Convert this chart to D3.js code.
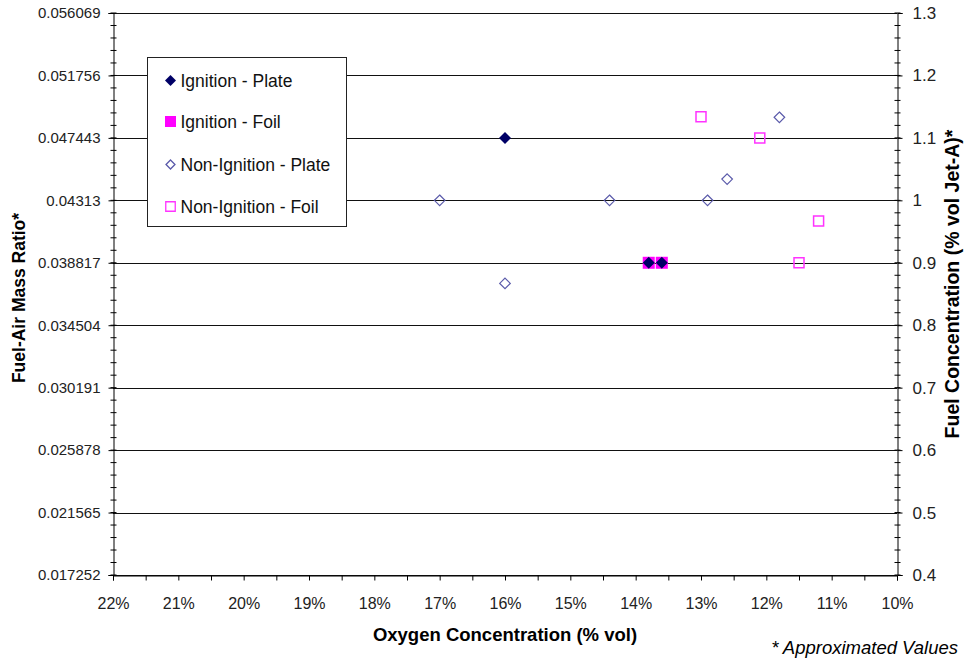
<!DOCTYPE html>
<html>
<head>
<meta charset="utf-8">
<script src="https://cdn.jsdelivr.net/npm/d3@7"></script>
<style>
  body { margin: 0; background: #fff; }
  text { font-family: Arial, "Liberation Sans", sans-serif; }
</style>
</head>
<body>
<div id="chart"></div>
<script>
// data: [oxygen %, fuel concentration % vol Jet-A]
var ignitionPlate = [[16.0, 1.1], [13.8, 0.9], [13.6, 0.9]]
var ignitionFoil = [[13.8, 0.9], [13.6, 0.9]]
var nonIgnitionPlate = [[17.0, 1.0], [16.0, 0.867], [14.4, 1.0], [12.9, 1.0], [12.6, 1.034], [11.8, 1.133]]
var nonIgnitionFoil = [[13.0, 1.134], [12.1, 1.1], [11.2, 0.967], [11.5, 0.9]]
var seriesNames = ['Ignition - Plate', 'Ignition - Foil', 'Non-Ignition - Plate', 'Non-Ignition - Foil']
var leftTicks = ['0.017252', '0.021565', '0.025878', '0.030191', '0.034504', '0.038817', '0.04313', '0.047443', '0.051756', '0.056069']
var rightTicks = [0.4, 0.5, 0.6, 0.7, 0.8, 0.9, 1.0, 1.1, 1.2, 1.3]
var xTicks = [22, 21, 20, 19, 18, 17, 16, 15, 14, 13, 12, 11, 10]

var width = 964, height = 661
var margin = {top: 13, right: 67, bottom: 86, left: 113}
var svg = d3.select('#chart').append('svg').attr('width', width).attr('height', height)

var x = d3.scaleLinear().domain([22, 10]).range([margin.left, width - margin.right])
var y = d3.scaleLinear().domain([0.4, 1.3]).range([height - margin.bottom, margin.top])

// square diamond (excel style), not the tall d3 one
var rhombus = {
  draw: function (ctx, size) {
    var r = Math.sqrt(size / 2)
    ctx.moveTo(0, -r); ctx.lineTo(r, 0); ctx.lineTo(0, r); ctx.lineTo(-r, 0); ctx.closePath()
  }
}

//网格
svg.append('g').selectAll('line').data(rightTicks).enter().append('line')
  .attr('x1', x(22)).attr('x2', x(10))
  .attr('y1', function (d) { return Math.round(y(d)) + 0.5 })
  .attr('y2', function (d) { return Math.round(y(d)) + 0.5 })
  .attr('stroke', '#111').attr('stroke-width', 1.2)

//轴
var minor = d3.range(0.4, 1.3001, 0.02)
var xAxis = d3.axisBottom(x).tickValues(d3.range(10, 22.01, 0.5)).tickSize(5).tickPadding(17)
  .tickFormat(function (d) { return d % 1 === 0 ? d + '%' : '' })
var gx = svg.append('g').attr('transform', 'translate(0,' + (Math.round(y(0.4)) + 0.5) + ')').call(xAxis)
gx.selectAll('.tick line').attr('y2', 5).attr('y1', 0)

var yLeft = d3.axisLeft(y).tickValues(rightTicks).tickSize(5).tickPadding(8)
  .tickFormat(function (d, i) { return leftTicks[i] })
var gl = svg.append('g').attr('transform', 'translate(' + (x(22) + 0.5) + ',0)').call(yLeft)
gl.append('g').selectAll('line').data(minor).enter().append('line')
  .attr('x1', -3).attr('x2', 3)
  .attr('y1', function (d) { return y(d) }).attr('y2', function (d) { return y(d) })
  .attr('stroke', '#000')

var yRight = d3.axisRight(y).tickValues(rightTicks).tickSize(5).tickPadding(10)
  .tickFormat(function (d) { return d3.format('.1f')(d).replace('1.0', '1') })
var gr = svg.append('g').attr('transform', 'translate(' + (x(10) + 0.5) + ',0)').call(yRight)
gr.append('g').selectAll('line').data(minor).enter().append('line')
  .attr('x1', -3).attr('x2', 3)
  .attr('y1', function (d) { return y(d) }).attr('y2', function (d) { return y(d) })
  .attr('stroke', '#000')

svg.selectAll('.domain').attr('stroke', '#000')
svg.selectAll('.tick text').attr('font-size', 15).attr('fill', '#222')
  .attr('font-family', 'Arial, "Liberation Sans", sans-serif')
gr.selectAll('.tick text').attr('font-size', 17)
gx.selectAll('.tick text').attr('font-size', 16)

//点
var diamond = d3.symbol().type(rhombus)
var square = d3.symbol().type(d3.symbolSquare)

svg.append('g').selectAll('path').data(nonIgnitionPlate).enter().append('path')
  .attr('d', diamond.size(56))
  .attr('transform', function (d) { return 'translate(' + x(d[0]) + ',' + y(d[1]) + ')' })
  .attr('fill', 'none').attr('stroke', '#5a5aaa').attr('stroke-width', 1.2)
svg.append('g').selectAll('path').data(nonIgnitionFoil).enter().append('path')
  .attr('d', square.size(100))
  .attr('transform', function (d) { return 'translate(' + x(d[0]) + ',' + y(d[1]) + ')' })
  .attr('fill', 'none').attr('stroke', '#ff33ff').attr('stroke-width', 1.5)
svg.append('g').selectAll('path').data(ignitionFoil).enter().append('path')
  .attr('d', square.size(144))
  .attr('transform', function (d) { return 'translate(' + x(d[0]) + ',' + y(d[1]) + ')' })
  .attr('fill', '#ff00ff')
svg.append('g').selectAll('path').data(ignitionPlate).enter().append('path')
  .attr('d', diamond.size(72))
  .attr('transform', function (d) { return 'translate(' + x(d[0]) + ',' + y(d[1]) + ')' })
  .attr('fill', '#000066')

//图例
var legend = svg.append('g').attr('transform', 'translate(147.5,57.5)')
legend.append('rect').attr('width', 199).attr('height', 169)
  .attr('fill', '#fff').attr('stroke', '#222')
var legendY = [23, 64, 107, 149]
var lg = legend.selectAll('g.item').data(seriesNames).enter().append('g')
  .attr('transform', function (d, i) { return 'translate(23,' + legendY[i] + ')' })
lg.append('path')
  .attr('d', function (d, i) {
    return i % 2 === 0 ? diamond.size(i === 0 ? 60 : 40)() : square.size(i === 1 ? 121 : 90)()
  })
  .attr('fill', function (d, i) { return i === 0 ? '#000066' : i === 1 ? '#ff00ff' : 'none' })
  .attr('stroke', function (d, i) { return i === 2 ? '#5a5aaa' : i === 3 ? '#ff33ff' : 'none' })
  .attr('stroke-width', 1.3)
lg.append('text').attr('x', 10).attr('dy', '0.36em')
  .attr('font-size', 17.5).attr('fill', '#111')
  .text(function (d) { return d })

//标题
svg.append('text')
  .attr('transform', 'translate(25,298) rotate(-90)')
  .attr('text-anchor', 'middle').attr('font-size', 17.5).attr('font-weight', 'bold')
  .text('Fuel-Air Mass Ratio*')
svg.append('text')
  .attr('transform', 'translate(959,284) rotate(-90)')
  .attr('text-anchor', 'middle').attr('font-size', 19.5).attr('font-weight', 'bold')
  .text('Fuel Concentration (% vol Jet-A)*')
svg.append('text')
  .attr('x', (x(22) + x(10)) / 2).attr('y', 641)
  .attr('text-anchor', 'middle').attr('font-size', 18.5).attr('font-weight', 'bold')
  .text('Oxygen Concentration (% vol)')
svg.append('text')
  .attr('x', 958).attr('y', 654)
  .attr('text-anchor', 'end').attr('font-size', 18.5).attr('font-style', 'italic')
  .text('* Approximated Values')
</script>
</body>
</html>
